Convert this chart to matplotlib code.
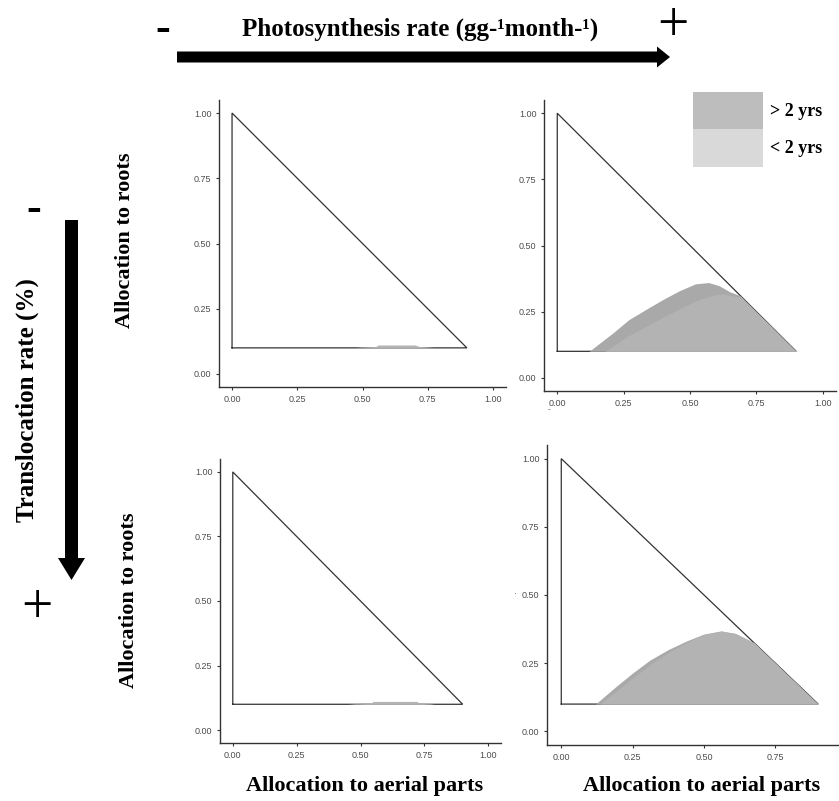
import matplotlib
matplotlib.use("Agg")
import matplotlib.pyplot as plt
from matplotlib.patches import Patch, FancyArrow
from matplotlib.font_manager import FontProperties

# ---------------- data ----------------
categories = ["> 2 yrs", "< 2 yrs"]
legend_colors = ["#bdbdbd", "#d9d9d9"]
fill_colors = ["#a9a9a9", "#b3b3b3"]

ticks = [0.0, 0.25, 0.5, 0.75, 1.0]
tick_labels = ["0.00", "0.25", "0.50", "0.75", "1.00"]

# feasible allocation region outline
outline_x = [0.0, 0.0, 0.9, 0.0]
outline_y = [0.1, 1.0, 0.1, 0.1]
base_y = 0.1

# top-left panel (low photosynthesis, low translocation)
tl_old_x = [0.46, 0.50, 0.55, 0.72, 0.75, 0.78]
tl_old_y = [0.100, 0.104, 0.105, 0.105, 0.104, 0.100]
tl_young_x = [0.50, 0.55, 0.56, 0.70, 0.72, 0.75]
tl_young_y = [0.100, 0.105, 0.111, 0.111, 0.105, 0.100]

# top-right panel (high photosynthesis, low translocation)
tr_old_x = [0.12, 0.21, 0.27, 0.34, 0.40, 0.46, 0.52, 0.57, 0.61, 0.65, 0.69, 0.80, 0.90]
tr_old_y = [0.10, 0.17, 0.22, 0.262, 0.297, 0.329, 0.355, 0.360, 0.348, 0.325, 0.310, 0.20, 0.10]
tr_young_x = [0.18, 0.27, 0.40, 0.52, 0.59, 0.625, 0.66, 0.69, 0.80, 0.90]
tr_young_y = [0.10, 0.16, 0.23, 0.29, 0.313, 0.317, 0.31, 0.305, 0.20, 0.10]

# bottom-left panel (low photosynthesis, high translocation)
bl_old_x = [0.45, 0.49, 0.54, 0.73, 0.765, 0.79]
bl_old_y = [0.100, 0.104, 0.105, 0.105, 0.104, 0.100]
bl_young_x = [0.49, 0.54, 0.55, 0.72, 0.73, 0.765]
bl_young_y = [0.100, 0.105, 0.111, 0.111, 0.105, 0.100]

# bottom-right panel (high photosynthesis, high translocation)
br_old_x = [0.12, 0.19, 0.25, 0.31, 0.375, 0.44, 0.50, 0.56, 0.61, 0.645, 0.675, 0.80, 0.90]
br_old_y = [0.10, 0.163, 0.214, 0.261, 0.300, 0.332, 0.357, 0.368, 0.359, 0.341, 0.325, 0.20, 0.10]
br_young_x = [0.135, 0.20, 0.26, 0.32, 0.38, 0.44, 0.50, 0.56, 0.61, 0.645, 0.675, 0.80, 0.90]
br_young_y = [0.10, 0.154, 0.204, 0.251, 0.292, 0.327, 0.355, 0.368, 0.359, 0.341, 0.325, 0.20, 0.10]

title_text = "Photosynthesis rate (gg-\u00b9month-\u00b9)"
side_text = "Translocation rate (%)"
ylab_text = "Allocation to roots"
xlab_text = "Allocation to aerial parts"

# ---------------- figure ----------------
W, H = 839, 801
fig = plt.figure(figsize=(W / 100, H / 100), dpi=100)

serif = "Liberation Serif"
sans = "Liberation Sans"


def rect(l, t, r, b):
    return [l / W, 1 - b / H, (r - l) / W, (b - t) / H]


def panel(box, old_x, old_y, young_x, young_y):
    ax = fig.add_axes(rect(*box))
    ax.plot(outline_x, outline_y, color="#333333", lw=0.9, zorder=2,
            solid_joinstyle="miter")
    ax.fill_between(old_x, base_y, old_y, color=fill_colors[0], lw=0, zorder=3)
    ax.fill_between(young_x, base_y, young_y, color=fill_colors[1], lw=0, zorder=4)
    ax.set_xlim(-0.05, 1.05)
    ax.set_ylim(-0.05, 1.05)
    ax.set_xticks(ticks)
    ax.set_xticklabels(tick_labels)
    ax.set_yticks(ticks)
    ax.set_yticklabels(tick_labels)
    for s in ["top", "right"]:
        ax.spines[s].set_visible(False)
    for s in ["left", "bottom"]:
        ax.spines[s].set_color("#333333")
        ax.spines[s].set_linewidth(1.0)
    ax.tick_params(direction="out", length=2.5, width=0.8, color="#333333",
                   labelsize=6.5, labelcolor="#4d4d4d", pad=3)
    for lab in ax.get_xticklabels() + ax.get_yticklabels():
        lab.set_family(sans)
    return ax


ax_tl = panel((219, 100, 506, 387), tl_old_x, tl_old_y, tl_young_x, tl_young_y)
ax_tr = panel((544, 100, 836, 391), tr_old_x, tr_old_y, tr_young_x, tr_young_y)
ax_bl = panel((220, 459, 501, 743), bl_old_x, bl_old_y, bl_young_x, bl_young_y)
ax_br = panel((547, 445, 861, 745), br_old_x, br_old_y, br_young_x, br_young_y)

handles = [Patch(facecolor=c, edgecolor="none", label=l)
           for c, l in zip(legend_colors, categories)]
fs_leg = 13
px_per_fs = fs_leg * 100 / 72
ax_tr.legend(handles=handles, loc="upper left",
             bbox_to_anchor=(692.7 / W, 1 - 91.7 / H), bbox_transform=fig.transFigure,
             frameon=False, borderpad=0, borderaxespad=0,
             handlelength=70 / px_per_fs, handleheight=1.315 * 38.8 / px_per_fs,
             labelspacing=0, handletextpad=0.42,
             prop=FontProperties(family=serif, weight="bold", size=fs_leg))

# ---------------- annotation overlay ----------------
ov = fig.add_axes([0, 0, 1, 1], zorder=10)
ov.set_xlim(0, W)
ov.set_ylim(H, 0)
ov.axis("off")
ov.patch.set_alpha(0)

ov.add_patch(FancyArrow(177, 57, 493, 0, width=11, head_width=21, head_length=13,
                        length_includes_head=True, color="black", lw=0))
ov.add_patch(FancyArrow(71.5, 220, 0, 360, width=13, head_width=27, head_length=22,
                        length_includes_head=True, color="black", lw=0))

ov.text(420, 29, title_text, family=serif, weight="bold", fontsize=18,
        ha="center", va="center")
ov.text(163, 30, "-", family=serif, weight="bold", fontsize=32,
        ha="center", va="center")
ov.text(673, 27, "+", family=serif, fontsize=40, ha="center", va="center")
ov.text(34, 210, "-", family=serif, weight="bold", fontsize=32,
        ha="center", va="center")
ov.text(37, 609, "+", family=serif, fontsize=40, ha="center", va="center")

ov.text(27, 400, side_text, family=serif, weight="bold", fontsize=18,
        rotation=90, ha="center", va="center")
ov.text(125, 240, ylab_text, family=serif, weight="bold", fontsize=16,
        rotation=90, ha="center", va="center")
ov.text(129, 600, ylab_text, family=serif, weight="bold", fontsize=16,
        rotation=90, ha="center", va="center")
ov.text(365, 786, xlab_text, family=serif, weight="bold", fontsize=16,
        ha="center", va="center")
ov.text(702, 786, xlab_text, family=serif, weight="bold", fontsize=16,
        ha="center", va="center")

# small residual marks
ov.text(515, 595, "\u00b7", family=sans, fontsize=6, color="#4d4d4d",
        ha="center", va="center")
ov.text(549, 410, "-", family=sans, fontsize=6, color="#4d4d4d",
        ha="center", va="center")

fig.savefig("out.png", dpi=100)
